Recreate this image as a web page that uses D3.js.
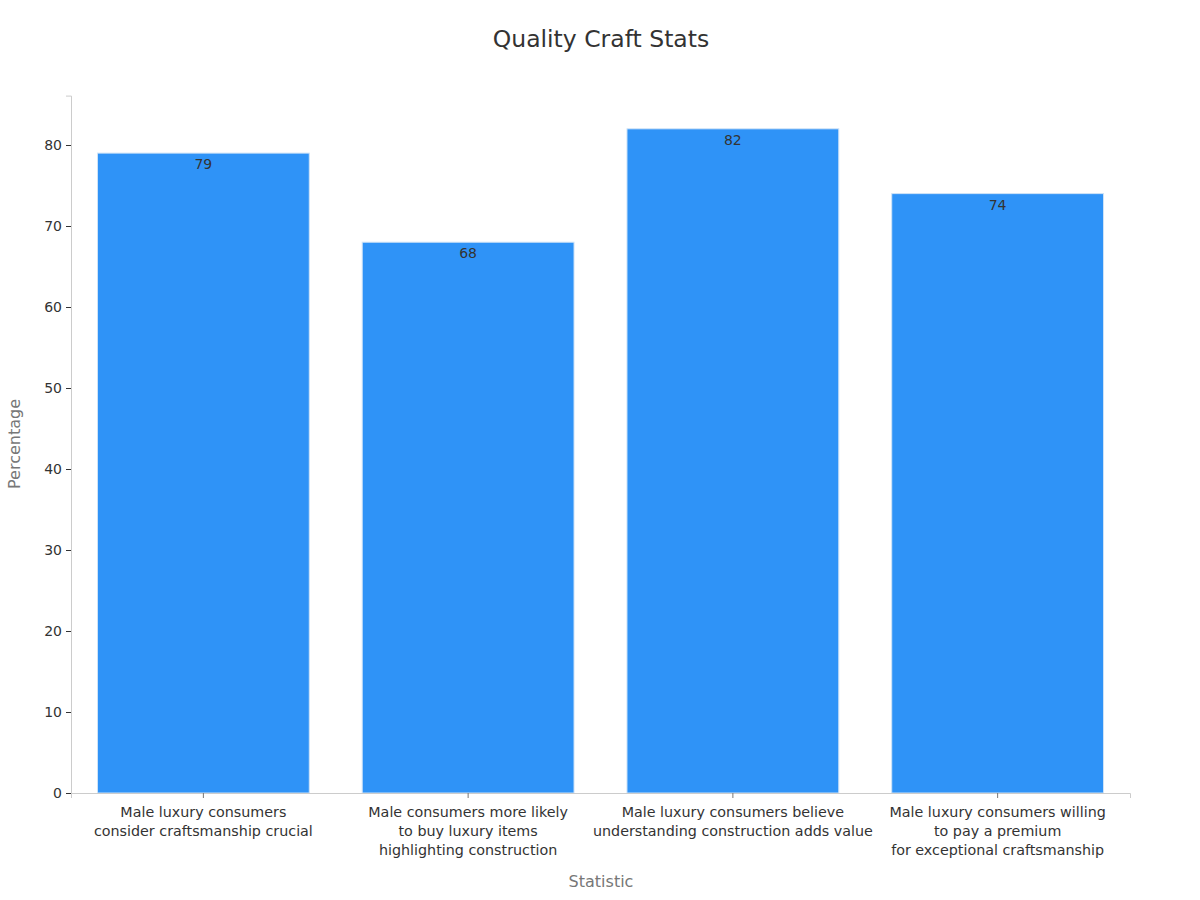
<!DOCTYPE html>
<html><head><meta charset="utf-8">
<script src="https://cdn.jsdelivr.net/npm/d3@7"></script>
<style>body{margin:0;background:#fff;font-family:"DejaVu Sans",sans-serif;}</style>
</head><body><svg id="c" width="1200" height="900"></svg>
<script>
const categories = [
  ["Male luxury consumers","consider craftsmanship crucial"],
  ["Male consumers more likely","to buy luxury items","highlighting construction"],
  ["Male luxury consumers believe","understanding construction adds value"],
  ["Male luxury consumers willing","to pay a premium","for exceptional craftsmanship"]
];
const values = [79, 68, 82, 74];
const yTicks = [0,10,20,30,40,50,60,70,80];
const title = "Quality Craft Stats";

const svg = d3.select("#c");
const m = {l:71, r:1130, t:95.6, b:793};
const keys = categories.map((c,i)=>i);
const x = d3.scaleBand().domain(keys).range([m.l,m.r]).paddingInner(0.2).paddingOuter(0.1);
const y = d3.scaleLinear().domain([0, d3.max(values)*1.05]).range([m.b,m.t]);

svg.append("text").attr("x",601).attr("y",47).attr("text-anchor","middle")
  .attr("font-size",23.5).attr("fill","#333").text(title);

svg.selectAll("rect.bar").data(values).enter().append("rect")
  .attr("x",(d,i)=>x(i)).attr("width",x.bandwidth())
  .attr("y",d=>y(d)).attr("height",d=>y(0)-y(d))
  .attr("fill","#2f93f7").attr("stroke","#cfe3f7").attr("stroke-width",1);

svg.selectAll("text.val").data(values).enter().append("text")
  .attr("x",(d,i)=>x(i)+x.bandwidth()/2).attr("y",d=>y(d)+16)
  .attr("text-anchor","middle").attr("font-size",14).attr("fill","#333").text(d=>d);

const ya = svg.append("g").attr("transform",`translate(${m.l},0)`)
  .call(d3.axisLeft(y).tickValues(yTicks).tickSize(5).tickPadding(4));
ya.select(".domain").attr("stroke","#ccc");
ya.selectAll(".tick line").attr("stroke","#333");
ya.selectAll(".tick text").attr("font-size",14).attr("fill","#333").attr("font-family","DejaVu Sans");

const xa = svg.append("g").attr("transform",`translate(0,${m.b})`)
  .call(d3.axisBottom(x).tickSize(5).tickFormat(""));
xa.select(".domain").attr("stroke","#ccc");
xa.selectAll(".tick line").attr("stroke","#777");
xa.selectAll(".tick").each(function(d){
  const t = d3.select(this).append("text").attr("text-anchor","middle")
    .attr("font-size",14.3).attr("fill","#333").attr("font-family","DejaVu Sans");
  categories[d].forEach((line,j)=>{
    t.append("tspan").attr("x",0).attr("y",24+j*19).text(line);
  });
});

svg.append("text").attr("x",601).attr("y",887).attr("text-anchor","middle")
  .attr("font-size",16).attr("fill","#777").text("Statistic");
svg.append("text").attr("transform","translate(20,444) rotate(-90)").attr("text-anchor","middle")
  .attr("font-size",16).attr("fill","#777").text("Percentage");
</script></body></html>
